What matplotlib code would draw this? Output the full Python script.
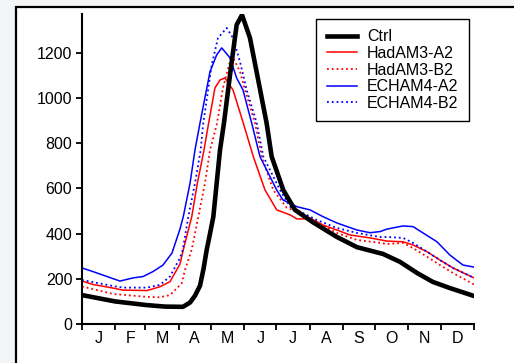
import matplotlib.pyplot as plt
import matplotlib as mpl
from matplotlib.patches import Rectangle
import numpy as np

mpl.rcParams.update({
    'font.family': ['Liberation Sans', 'DejaVu Sans'],
    'font.size': 11.5,
    'axes.linewidth': 1.5,
    'xtick.direction': 'out',
    'ytick.direction': 'out',
})

# Day of year / flow values
ctrl_day = [0, 30.7, 59.6, 77.3, 94.0, 100.6, 105.2, 109.9, 113.2, 116.1, 119.2, 122.3, 125.4,
            128.5, 132.2, 137.8, 144.0, 149.0, 156.4, 165.7, 171.9, 176.6, 187.4, 198.3,
            215.1, 237.4, 256.0, 280.3, 296.1, 311.9, 326.8, 342.6, 365]
ctrl_val = [128, 100, 84, 77, 76, 95, 125, 170, 245, 328, 400, 475, 623,
            770, 890, 1102, 1324, 1368, 1266, 1040, 889, 741, 593, 505,
            450, 385, 340, 310, 275, 226, 186, 159, 124]

had_a2_day = [0, 10.2, 28.9, 38.2, 60.5, 72.6, 81.9, 91.2, 94.3, 102.2, 107.4, 113.6, 117.6,
              123.8, 128.5, 133.1, 140.6, 150.2, 159.5, 170.4, 181.3, 193.7, 200.2, 205.8,
              212.3, 224.4, 237.4, 249.5, 268.2, 284.0, 298.9, 308.2, 321.2, 333.3, 345.4, 365]
had_a2_val = [190, 175, 159, 150, 148, 165, 187, 265, 328, 475, 623, 770, 881,
              1045, 1080, 1089, 1036, 889, 741, 593, 505, 483, 465, 465,
              469, 438, 416, 394, 381, 367, 364, 350, 320, 283, 248, 204]

had_b2_day = [0, 28.9, 60.5, 72.6, 81.9, 88.5, 92.8, 95.9, 102.2, 108.3, 114.5, 119.2, 125.4,
              131.3, 139.4, 147.1, 151.8, 161.1, 167.3, 178.1, 190.6, 202.9, 215.1, 237.4,
              256.0, 277.5, 284.0, 298.9, 308.2, 321.2, 333.3, 345.4, 365]
had_b2_val = [166, 133, 120, 118, 128, 159, 180, 239, 330, 475, 623, 770, 881,
              1045, 1191, 1117, 1036, 889, 741, 593, 515, 491, 460, 403,
              372, 359, 354, 359, 336, 298, 261, 226, 175]

ech_a2_day = [0, 10.2, 23.3, 35.4, 47.5, 56.8, 66.1, 75.4, 83.8, 91.2, 94.3, 100.6, 105.2,
              109.9, 119.2, 125.4, 130.1, 137.8, 144.0, 149.9, 158.0, 165.7, 181.3, 187.1,
              200.2, 212.3, 224.4, 237.4, 256.0, 268.2, 277.5, 284.0, 298.9, 308.2, 317.5,
              330.5, 342.6, 354.7, 365]
ech_a2_val = [248, 232, 210, 190, 204, 210, 232, 261, 314, 420, 475, 623, 770,
              890, 1117, 1191, 1222, 1178, 1089, 1036, 889, 741, 593, 549,
              519, 505, 475, 447, 416, 404, 409, 420, 434, 431, 403,
              364, 305, 261, 252]

ech_b2_day = [0, 28.9, 38.2, 60.5, 72.6, 81.9, 91.2, 93.8, 99.0, 105.2, 110.5, 112.7, 120.8,
              126.6, 134.7, 140.6, 147.1, 153.3, 162.7, 168.8, 184.4, 193.7, 205.8, 218.8,
              237.4, 256.0, 277.5, 284.0, 298.9, 308.2, 321.2, 333.3, 345.4, 365]
ech_b2_val = [195, 168, 161, 161, 173, 210, 292, 328, 475, 623, 770, 881, 1147,
              1266, 1310, 1266, 1161, 1036, 889, 741, 593, 519, 491, 460,
              425, 403, 385, 385, 381, 359, 320, 283, 248, 204]

month_edges = [0, 31, 59, 90, 120, 151, 181, 212, 243, 273, 304, 334, 365]
month_labels = ['J', 'F', 'M', 'A', 'M', 'J', 'J', 'A', 'S', 'O', 'N', 'D']

fig = plt.figure(figsize=(5.14, 3.63), dpi=100)
fig.patch.set_facecolor('#f4f5f7')
# white panel with black frame (extends past right/bottom edge)
fig.patches.append(Rectangle((15.5 / 514, -0.05), 1.1, 1 - 6.5 / 363 + 0.05,
                             transform=fig.transFigure, facecolor='white',
                             edgecolor='black', linewidth=1.6, zorder=-5))

ax = fig.add_axes([82 / 514, 1 - 324 / 363, (474 - 82) / 514, (324 - 14) / 363])
ax.set_facecolor('none')

ax.plot(ctrl_day, ctrl_val, color='black', linewidth=3.3, label='Ctrl', zorder=5)
ax.plot(had_a2_day, had_a2_val, color='#ff0000', linewidth=1.1, label='HadAM3-A2')
ax.plot(had_b2_day, had_b2_val, color='#ff0000', linewidth=1.3, linestyle=':', label='HadAM3-B2')
ax.plot(ech_a2_day, ech_a2_val, color='#0000ff', linewidth=1.1, label='ECHAM4-A2')
ax.plot(ech_b2_day, ech_b2_val, color='#0000ff', linewidth=1.3, linestyle=':', label='ECHAM4-B2')

ax.set_xlim(0, 365)
ax.set_ylim(0, 1372)
ax.set_yticks(np.arange(0, 1201, 200))
ax.set_xticks(month_edges)
ax.set_xticklabels([])
mids = [(month_edges[i] + month_edges[i + 1]) / 2 for i in range(12)]
ax.set_xticks(mids, minor=True)
ax.set_xticklabels(month_labels, minor=True)
ax.tick_params(axis='x', which='minor', length=0, pad=5)
ax.tick_params(axis='both', which='major', length=4, width=1.3)
ax.tick_params(axis='y', pad=3)

for side in ['top', 'right']:
    ax.spines[side].set_visible(False)

leg = ax.legend(loc='upper right', bbox_to_anchor=(469 / 514, 1 - 19 / 363),
                bbox_transform=fig.transFigure, fancybox=False, framealpha=1,
                edgecolor='black', handlelength=1.9, handletextpad=0.65,
                borderpad=0.65, labelspacing=0.1, borderaxespad=0)
leg.get_frame().set_linewidth(1.0)

plt.savefig('out.png', dpi=100, facecolor=fig.get_facecolor())
plt.close()
